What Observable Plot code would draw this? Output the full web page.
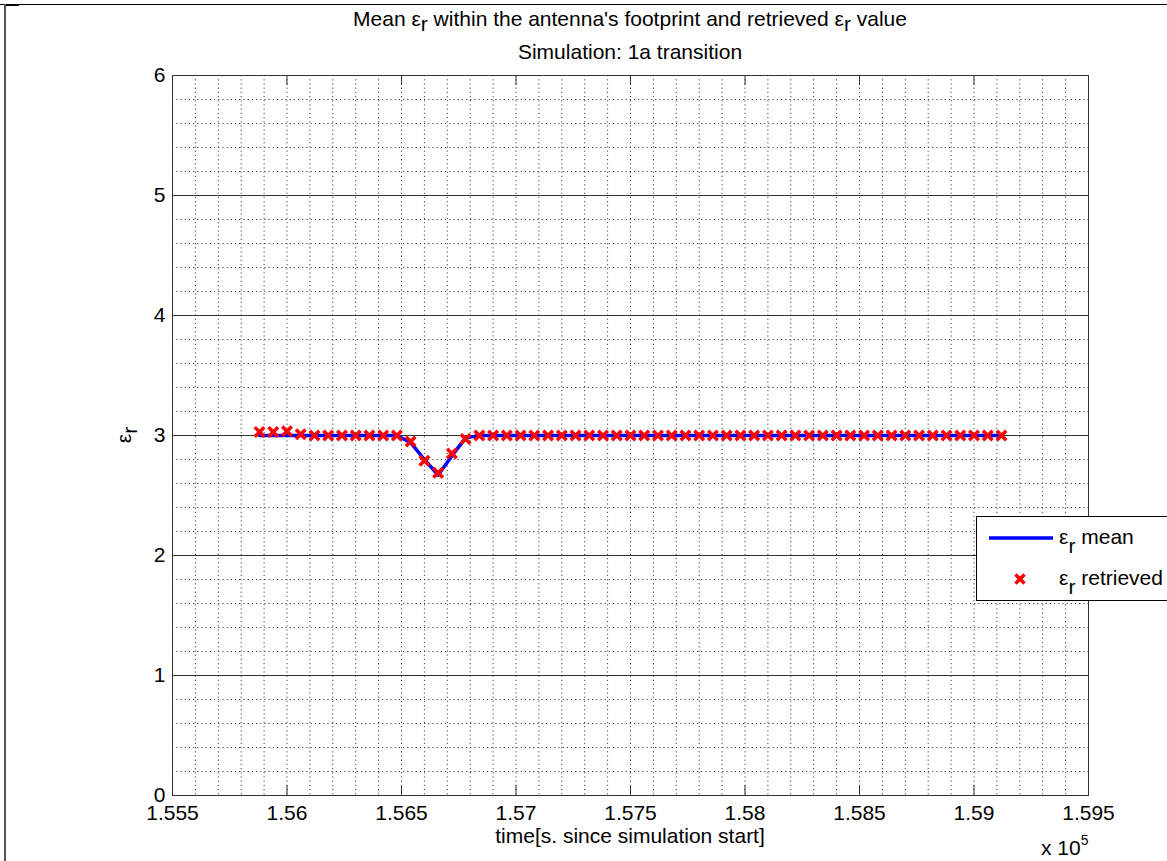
<!DOCTYPE html>
<html><head><meta charset="utf-8">
<script src="https://cdn.jsdelivr.net/npm/d3@7"></script>
<script src="https://cdn.jsdelivr.net/npm/@observablehq/plot@0.6"></script>
<style>body{margin:0;background:#fff;} svg{display:block;}</style>
</head><body><div id="chart"></div>
<script>
// time [s since simulation start]
const times = [
  155880,155940,156000,156060,156120,156180,156240,156300,156360,156420,
  156480,156540,156600,156660,156720,156780,156840,156900,156960,157020,
  157080,157140,157200,157260,157320,157380,157440,157500,157560,157620,
  157680,157740,157800,157860,157920,157980,158040,158100,158160,158220,
  158280,158340,158400,158460,158520,158580,158640,158700,158760,158820,
  158880,158940,159000,159060,159120
];
// retrieved eps_r (red crosses)
const retrieved = [
  3.03,3.03,3.035,3.01,3.0,3.0,3.0,3.0,3.0,3.0,
  3.0,2.95,2.79,2.69,2.85,2.97,3.0,3.0,3.0,3.0,
  3.0,3.0,3.0,3.0,3.0,3.0,3.0,3.0,3.0,3.0,
  3.0,3.0,3.0,3.0,3.0,3.0,3.0,3.0,3.0,3.0,
  3.0,3.0,3.0,3.0,3.0,3.0,3.0,3.0,3.0,3.0,
  3.0,3.0,3.0,3.0,3.0
];
// mean eps_r within the footprint (blue line)
const meanEps = [
  3.0,3.0,3.0,3.0,3.0,3.0,3.0,3.0,3.0,3.0,
  3.0,2.94,2.80,2.67,2.83,2.98,3.0,3.0,3.0,3.0,
  3.0,3.0,3.0,3.0,3.0,3.0,3.0,3.0,3.0,3.0,
  3.0,3.0,3.0,3.0,3.0,3.0,3.0,3.0,3.0,3.0,
  3.0,3.0,3.0,3.0,3.0,3.0,3.0,3.0,3.0,3.0,
  3.0,3.0,3.0,3.0,3.0
];
const xTicks = [155500,156000,156500,157000,157500,158000,158500,159000,159500];
const xTickLabels = ["1.555","1.56","1.565","1.57","1.575","1.58","1.585","1.59","1.595"];
const yTicks = [0,1,2,3,4,5,6];
const yTickLabels = ["0","1","2","3","4","5","6"];
const yMajorGrid = [1,2,3,4,5];

const data = times.map((t, i) => ({t, mean: meanEps[i], retrieved: retrieved[i]}));
const xGrid = d3.range(155600, 159401, 100);
const yMinorGrid = d3.range(1, 30).map(i => +(i * 0.2).toFixed(1)).filter(v => v % 1 !== 0);

const FONT = "'Liberation Sans', Arial, Helvetica, sans-serif";
const FS = 21;

const chart = Plot.plot({
  width: 1167, height: 861,
  marginLeft: 172, marginRight: 79, marginTop: 75, marginBottom: 66,
  style: {fontFamily: FONT, fontSize: FS + "px", background: "#fff", color: "#000", overflow: "visible"},
  x: {domain: [155500, 159500]},
  y: {domain: [0, 6]},
  marks: [
    Plot.ruleX(xGrid, {x: d => d, stroke: "#444", strokeDasharray: "1.2,3"}),
    Plot.ruleY(yMinorGrid, {y: d => d, stroke: "#444", strokeDasharray: "1.2,3"}),
    Plot.ruleY(yMajorGrid, {y: d => d, stroke: "#333"}),
    Plot.ruleX(xTicks, {x: d => d, insetTop: 710, stroke: "#333"}),
    Plot.ruleX(xTicks, {x: d => d, insetBottom: 710, stroke: "#333"}),
    Plot.frame({stroke: "#333"}),
    Plot.line(data, {x: "t", y: "mean", stroke: "#0000ff", strokeWidth: 3.5}),
    Plot.dot(data, {x: "t", y: "retrieved", symbol: "times", r: 4.4, stroke: "#ff0000", strokeWidth: 3.5}),
    Plot.axisX({ticks: xTicks, tickSize: 0, tickPadding: 10, fontSize: FS,
      tickFormat: d => xTickLabels[xTicks.indexOf(d)], label: null}),
    Plot.axisY({ticks: yTicks, tickSize: 0, tickPadding: 7, fontSize: FS,
      tickFormat: d => yTickLabels[yTicks.indexOf(d)], label: null})
  ]
});
document.getElementById("chart").appendChild(chart);

const svg = d3.select(chart);
const sub = (sel, main, s, rest, shift) => {
  sel.append("tspan").text(main);
  sel.append("tspan").attr("dy", shift).text(s);
  if (rest) sel.append("tspan").attr("dy", -shift).text(rest);
};
const txt = svg.append("g").attr("font-family", FONT).attr("font-size", FS).attr("fill", "#000");

// titles
const t1 = txt.append("text").attr("x", 630).attr("y", 26).attr("text-anchor", "middle");
t1.append("tspan").text("Mean ε");
t1.append("tspan").attr("dy", 5).text("r");
t1.append("tspan").attr("dy", -5).text(" within the antenna's footprint and retrieved ε");
t1.append("tspan").attr("dy", 5).text("r");
t1.append("tspan").attr("dy", -5).text(" value");
txt.append("text").attr("x", 630).attr("y", 59).attr("text-anchor", "middle").text("Simulation: 1a transition");

// axis labels
txt.append("text").attr("x", 630).attr("y", 843).attr("text-anchor", "middle").text("time[s. since simulation start]");
const xs = txt.append("text").attr("x", 1041).attr("y", 855).attr("text-anchor", "start");
xs.append("tspan").text("x 10");
xs.append("tspan").attr("dy", -10).attr("font-size", 14).text("5");
const yl = txt.append("text").attr("transform", "translate(131,435) rotate(-90)").attr("text-anchor", "middle");
sub(yl, "ε", "r", null, 6);

// legend
const lg = svg.append("g").attr("font-family", FONT).attr("font-size", FS).attr("text-anchor", "start");
lg.append("rect").attr("x", 976.5).attr("y", 516.5).attr("width", 200).attr("height", 84)
  .attr("fill", "#fff").attr("stroke", "#000");
lg.append("line").attr("x1", 989).attr("x2", 1053).attr("y1", 538).attr("y2", 538)
  .attr("stroke", "#0000ff").attr("stroke-width", 3.5);
lg.append("path").attr("d", "M1015.5,574.5L1024.5,583.5M1015.5,583.5L1024.5,574.5")
  .attr("stroke", "#ff0000").attr("stroke-width", 3.5);
const l1 = lg.append("text").attr("x", 1059).attr("y", 544);
sub(l1, "ε", "r", " mean", 9);
const l2 = lg.append("text").attr("x", 1059).attr("y", 585);
sub(l2, "ε", "r", " retrieved", 9);

// outer border lines of the figure
svg.append("line").attr("x1", 0).attr("x2", 1167).attr("y1", 4.5).attr("y2", 4.5).attr("stroke", "#000");
svg.append("rect").attr("x", 4).attr("y", 4).attr("width", 15).attr("height", 2).attr("fill", "#000");
svg.append("line").attr("x1", 5).attr("x2", 5).attr("y1", 4).attr("y2", 861).attr("stroke", "#555").attr("stroke-width", 2);
</script>
</body></html>
